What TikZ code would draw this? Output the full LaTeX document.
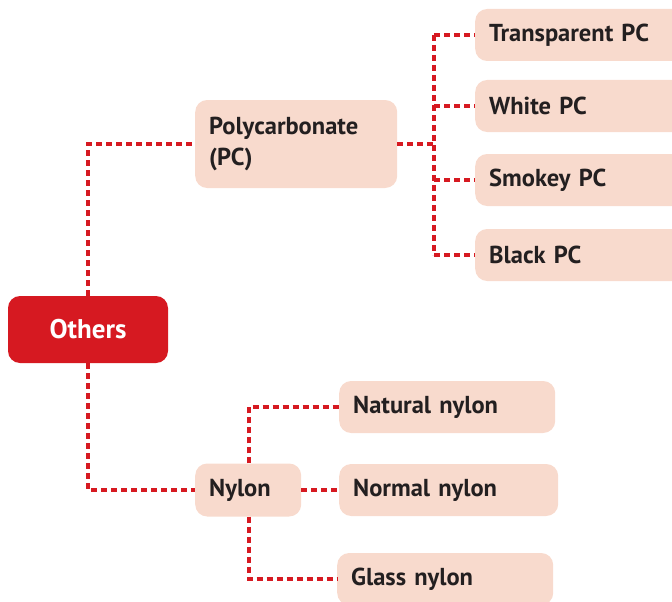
\documentclass[tikz,border=0pt]{standalone}
\usepackage{fontspec}
\setmainfont{PT Sans}
\usepackage{tikz}
\usetikzlibrary{positioning}
\definecolor{othred}{RGB}{214,25,33}
\definecolor{peach}{RGB}{248,218,205}
\definecolor{inkgray}{RGB}{35,31,32}

\tikzset{
  leaf/.style={fill=peach, rounded corners=12pt, inner xsep=14pt, inner ysep=0pt,
    align=left, anchor=west, minimum height=52pt, text=inkgray,
    font=\fontsize{24.5}{31}\selectfont\bfseries},
  link/.style={draw=othred, line width=3.2pt, dash pattern=on 6pt off 4pt},
}

\begin{document}
\begin{tikzpicture}[x=1pt,y=-1pt]
    \clip (0,0) rectangle (672,602);
    % root box
    \node[fill=othred, rounded corners=12pt, minimum width=160pt, minimum height=67pt,
      text=white, font=\fontsize{27}{32}\selectfont\bfseries] (others) at (88,329.5) {Others};
    % first level
    \node[leaf, text width=174pt, minimum height=88pt] (pc) at (195,144) {Polycarbonate\\(PC)};
    \node[leaf, text width=78pt, minimum height=53pt] (nylon) at (195,490) {Nylon};
    % polycarbonate kinds
    \node[leaf, text width=192pt] (transparent) at (475,35) {Transparent PC};
    \node[leaf, text width=192pt] (white) at (475,106) {White PC};
    \node[leaf, text width=192pt] (smokey) at (475,180) {Smokey PC};
    \node[leaf, text width=192pt] (black) at (475,255) {Black PC};
    % nylon kinds
    \node[leaf, text width=188pt] (natural) at (339,407) {Natural nylon};
    \node[leaf, text width=191pt] (normal) at (339,490) {Normal nylon};
    \node[leaf, text width=188pt] (glass) at (337,579) {Glass nylon};
    % junctions
    \coordinate (pcj) at (434,144);
    \coordinate (nyj) at (249,490);
    % connectors
    \draw[link] (others.north) |- (pc.west);
    \draw[link] (others.south) |- (nylon.west);
    \draw[link] (pc.east) -- (pcj);
    \draw[link] (pcj |- transparent.west) -- (pcj |- black.west);
    \foreach \kind in {transparent,white,smokey,black}
        \draw[link] (pcj |- \kind.west) -- (\kind.west);
    \draw[link] (nylon.north -| nyj) |- (natural.west);
    \draw[link] (nylon.east) -- (normal.west);
    \draw[link] (nylon.south -| nyj) |- (glass.west);
\end{tikzpicture}
\end{document}
